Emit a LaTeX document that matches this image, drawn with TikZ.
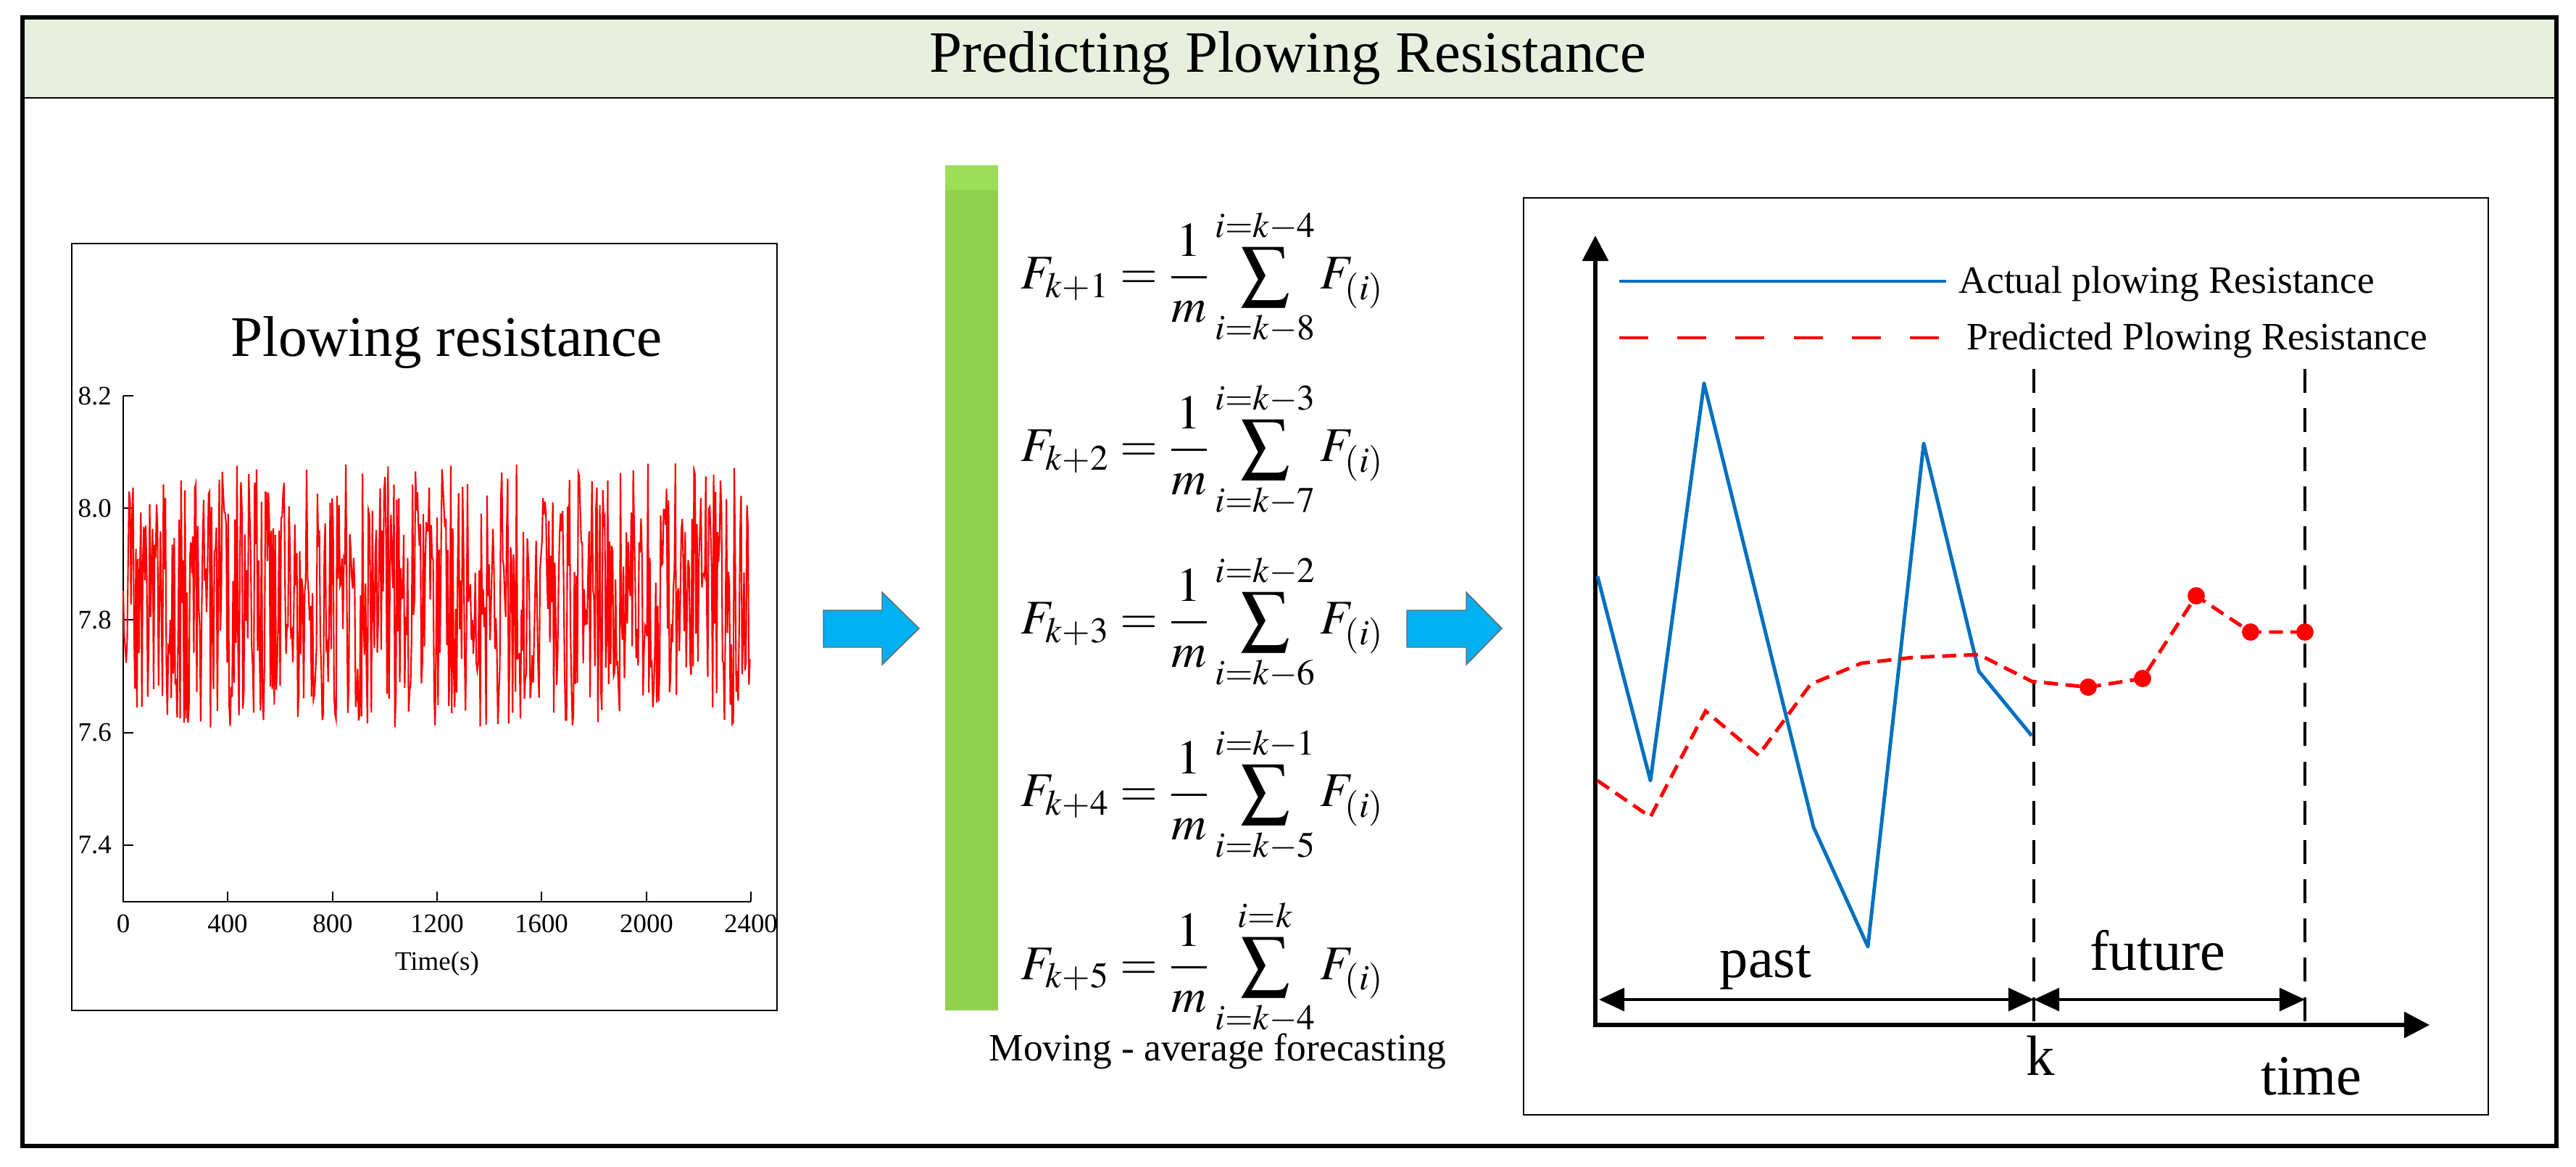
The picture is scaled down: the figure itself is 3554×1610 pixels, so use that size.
\documentclass[tikz,border=0pt]{standalone}
\usepackage{mathptmx}
\usepackage{fontspec}
\setmainfont{Liberation Serif}
\usetikzlibrary{arrows.meta}
\tikzset {>={Triangle[length=10pt,width=10pt]}}
\definecolor{bandgreen}{RGB}{232,239,223}
\definecolor{bargreen}{RGB}{146,208,80}
\definecolor{bartop}{RGB}{156,222,88}
\definecolor{arrowblue}{RGB}{0,176,240}
\definecolor{actualblue}{RGB}{0,112,192}
\definecolor{predred}{RGB}{255,0,0}

\begin{document}
\begin{tikzpicture}[x=0.01cm,y=-0.01cm,
  frame/.style={line width=1.6pt},
  panel/.style={draw,line width=0.7pt},
  thinaxis/.style={line width=0.5pt},
  ticklab/.style={font=\fontsize{10.5}{12}\selectfont,inner sep=1pt},
  bandtitle/.style={font=\fontsize{23}{27}\selectfont},
  plottitle/.style={font=\fontsize{22.5}{26}\selectfont,anchor=base},
  legend/.style={font=\fontsize{15.2}{18}\selectfont,anchor=west,inner sep=0pt},
  bigword/.style={font=\fontsize{22.3}{26}\selectfont,anchor=base,inner sep=0pt},
  formula/.style={font=\fontsize{19}{22}\selectfont,anchor=base west,inner sep=0pt},
  fatarrow/.style={fill=arrowblue,draw=black!60,line width=0.4pt},
  axis/.style={line width=1.7pt,line join=miter},
  span/.style={line width=1.2pt,{<[width=9pt]}-{>[width=9pt]}},
  kline/.style={line width=1.3pt,dash pattern=on 9.4pt off 6pt},
  actual/.style={actualblue,line width=1.4pt,line join=round},
  predicted/.style={predred,line width=1.4pt,dash pattern=on 5.5pt off 3pt},
  signal/.style={predred,line width=0.6pt}]
\useasboundingbox (0,0) rectangle (3554,1610);

% title band and outer frame
\fill[bandgreen] (31,24) rectangle (3527,135);
\draw[line width=0.8pt] (31,135) -- (3527,135);
\draw[frame] (31,24) rectangle (3527,1581);
\node[bandtitle] (title) at (1777,80) {Predicting Plowing Resistance};

% left panel: measured signal
\draw[panel] (99,336) rectangle (1072,1394);
\node[plottitle] (ltitle) at (616,492) {Plowing resistance};
\coordinate (lo) at (170,1244);
\coordinate (ltop) at (170,546);
\coordinate (lend) at (1036,1244);
\draw[thinaxis] (ltop) -- (lo) -- (lend);
\foreach \v/\y [count=\i] in {8.2/546,8.0/701,7.8/855,7.6/1011,7.4/1166}{
  \draw[thinaxis] (170,\y) -- (184,\y);
  \node[ticklab,anchor=east] (ylab\i) at (158,\y) {\v};
}
\foreach \t/\x [count=\i] in {0/170,400/314,800/459,1200/603,1600/747,2000/892,2400/1036}{
  \draw[thinaxis] (\x,1244) -- (\x,1230);
  \node[ticklab] (xlab\i) at (\x,1274) {\t};
}
\node[ticklab] (xname) at (603,1330) {Time(s)};
\begin{scope}[shift={(lo)},x=0.003608cm,y=7.75cm]
  \pgfmathsetseed{11}
  \draw[signal] plot[domain=0:2400,samples=640] (\x,{0.545+0.235*rand});
\end{scope}

% blue arrows
\filldraw[fatarrow] (1136,842) -- (1217,842) -- (1217,817) -- (1268,867)
  -- (1217,917) -- (1217,893) -- (1136,893) -- cycle;
\filldraw[fatarrow] (1941,842) -- (2023,842) -- (2023,817) -- (2072,867)
  -- (2023,917) -- (2023,893) -- (1941,893) -- cycle;

% middle: moving average
\fill[bargreen] (1304,228) rectangle (1377,1394);
\fill[bartop] (1304,228) rectangle (1377,262);
\foreach \j/\lo/\hi [count=\i] in {1/{k-8}/{k-4},2/{k-7}/{k-3},3/{k-6}/{k-2},4/{k-5}/{k-1},5/{k-4}/k}
  \node[formula] (eq\i) at (1408,{161+238*\i})
    {$\displaystyle F_{k+\j}=\frac{1}{m}\sum_{i=\lo}^{i=\hi}F_{(i)}$};
\node[legend,anchor=center] (mavg) at (1680,1450) {Moving - average forecasting};

% right panel: prediction
\draw[panel] (2102,273) rectangle (3433,1538);
\coordinate (O) at (2201,1414);
\coordinate (ytip) at (2201,325);
\coordinate (xtip) at (3352,1414);
\draw[axis,<->] (ytip) -- (O) -- (xtip);

\draw[actual] (2234,388) -- (2685,388);
\node[legend] (lega) at (2702,392) {Actual plowing Resistance};
\draw[predred,line width=1.4pt,dash pattern=on 11.4pt off 11.4pt] (2234,466) -- (2685,466);
\node[legend] (legp) at (2713,470) {Predicted Plowing Resistance};

\coordinate (k) at (2806,1379);
\coordinate (kend) at (3180,1379);
\draw[kline] (2806,509) -- (2806,1416);
\draw[kline] (3180,509) -- (3180,1416);

\draw[actual] (2204,795) -- (2277,1077) -- (2351,529) -- (2502,1141) -- (2577,1306)
  -- (2654,612) -- (2730,926) -- (2803,1015);
\draw[predicted] (2204,1077) -- (2277,1127) -- (2353,981) -- (2426,1042) -- (2498,944)
  -- (2568,915) -- (2639,907) -- (2730,903) -- (2803,940) -- (2881,948) -- (2956,936)
  -- (3030,822) -- (3105,872) -- (3180,872);
\foreach \p in {(2881,948),(2956,936),(3030,822),(3105,872),(3180,872)}
  \fill[predred] \p circle (3.4pt);

\draw[span] (2206,1379) -- (k);
\draw[span] (k) -- (kend);
\node[bigword] (past) at (2436,1348) {past};
\node[bigword] (future) at (2977,1338) {future};
\node[bigword] (klab) at (2815,1483) {k};
\node[bigword] (time) at (3189,1510) {time};
\end{tikzpicture}
\end{document}
